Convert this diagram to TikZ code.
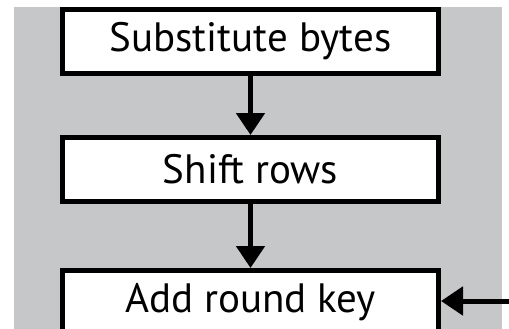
\documentclass[tikz,border=0pt]{standalone}
\usepackage{fontspec}
\setmainfont{PT Sans}
\usepackage{tikz}
\usetikzlibrary{positioning}
\usetikzlibrary{arrows.meta}

\definecolor{RoundGray}{RGB}{198,199,201}

\tikzset{
	stagebox/.style={draw, line width=5pt, fill=white, inner sep=0pt,
		minimum width=376pt, minimum height=64pt,
		font=\fontsize{41}{44}\selectfont},
	flowarrow/.style={line width=5pt, -{Triangle[length=22pt,width=28pt]}},
}

\begin{document}
\begin{tikzpicture}[x=1pt, y=-1pt]
		
		% ---------------------
		% Proper size --- Bounding box
		\clip (0,0) rectangle (509,329);
		\useasboundingbox (0,0) rectangle (509,329);
		\fill[RoundGray] (14,7) rectangle (502,340);
		
		% ---------------------
		% Round stages
		\node[stagebox] (SubBytes) at (250.5,41.5) {Substitute bytes};
		\node[stagebox, below=59pt of SubBytes] (ShiftRows) {Shift rows};
		\node[stagebox, below=64pt of ShiftRows] (AddKey) {Add round key};
		
		\coordinate (KeyIn) at (509,301);
		
		% ---------------------
		\draw[flowarrow] (SubBytes) -- (ShiftRows);
		\draw[flowarrow] (ShiftRows) -- (AddKey);
		\draw[flowarrow] (KeyIn) -- (KeyIn -| AddKey.east);
		
\end{tikzpicture}
\end{document}
